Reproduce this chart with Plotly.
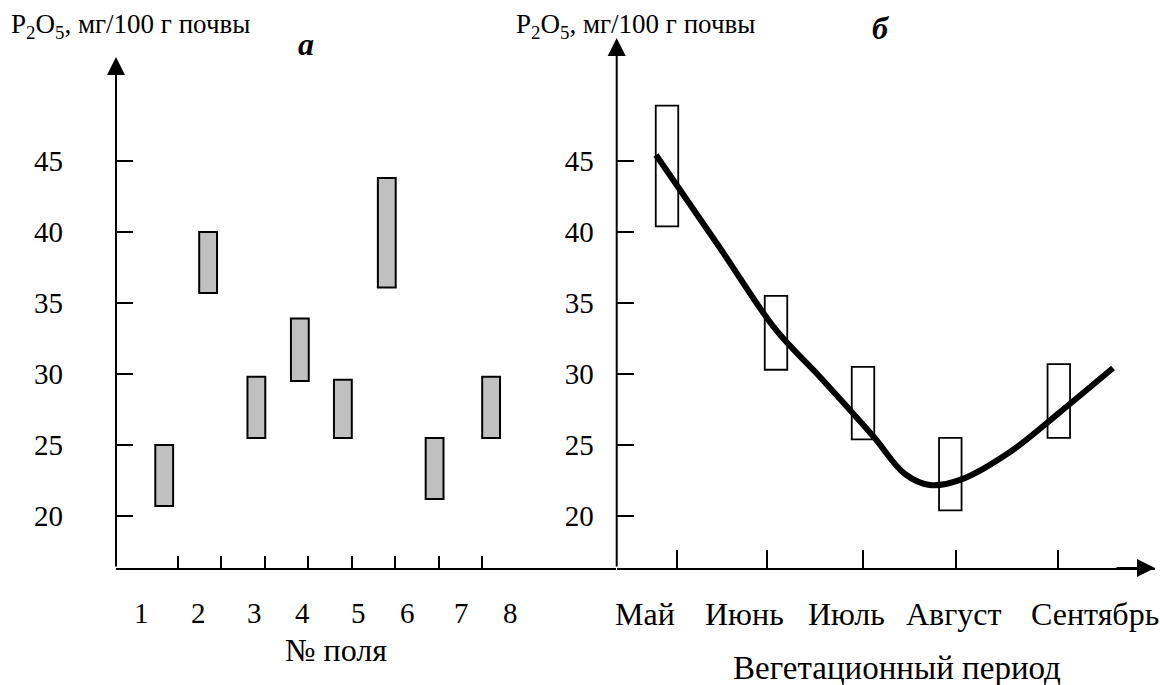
import plotly.graph_objects as go

# ---------------- data ----------------
# Panel a: P2O5 ranges per field
field_labels = ["1", "2", "3", "4", "5", "6", "7", "8"]
field_tick_pos = [1, 2, 3, 4, 5, 6, 7, 8]
field_bar_pos = [0.69, 1.70, 2.81, 3.81, 4.80, 5.81, 6.91, 8.21]
field_label_pos = [0.17, 1.47, 2.76, 3.88, 5.17, 6.28, 7.53, 8.66]
field_low = [20.7, 35.7, 25.5, 29.5, 25.5, 36.1, 21.2, 25.5]
field_high = [25.0, 40.0, 29.8, 33.9, 29.6, 43.8, 25.5, 29.8]

# Panel б: P2O5 ranges per month and trend line
months = ["Май", "Июнь", "Июль", "Август", "Сентябрь"]
month_tick_pos = [0.607, 1.503, 2.466, 3.393, 4.413]
month_box_pos = [0.503, 1.593, 2.463, 3.336, 4.421]
month_label_pos = [0.281, 1.281, 2.30, 3.373, 4.781]
month_low = [40.4, 30.3, 25.4, 20.4, 25.5]
month_high = [48.9, 35.5, 30.5, 25.5, 30.7]

trend_x = [0.393, 1.033, 1.593, 2.033, 2.563, 2.883, 3.133, 3.433, 3.933, 4.433, 4.963]
trend_y = [45.42, 38.87, 33.10, 29.79, 25.63, 22.96, 22.18, 22.54, 24.51, 27.32, 30.42]

y_ticks = [20, 25, 30, 35, 40, 45]

y_title = "P<sub>2</sub>O<sub>5</sub>, мг/100 г почвы"
x_title_a = "№ поля"
x_title_b = "Вегетационный период"

# ---------------- layout geometry ----------------
W, H = 1160, 685
FONT = "Liberation Serif"
yr = [16.34, 53.66]
y_top_a = 52.32
xr_a = [-0.419, 11.083]
xr_b = [0.0, 5.383]


def fx(p):
    return p / W


def fy(p):
    return (H - p) / H


fig = go.Figure()

fig.add_trace(go.Bar(
    x=field_bar_pos, base=field_low,
    y=[h - l for h, l in zip(field_high, field_low)],
    width=0.41, marker=dict(color="#c0c0c0", line=dict(color="black", width=2)),
    xaxis="x", yaxis="y", hoverinfo="skip"))

fig.add_trace(go.Bar(
    x=month_box_pos, base=month_low,
    y=[h - l for h, l in zip(month_high, month_low)],
    width=0.225, marker=dict(color="white", line=dict(color="black", width=1.8)),
    xaxis="x2", yaxis="y2", hoverinfo="skip"))

fig.add_trace(go.Scatter(
    x=trend_x, y=trend_y, mode="lines",
    line=dict(color="black", width=6, shape="spline", smoothing=1.0),
    xaxis="x2", yaxis="y2", hoverinfo="skip"))

tickfont = dict(family=FONT, size=29, color="black")

fig.update_layout(
    width=W, height=H,
    margin=dict(l=0, r=0, t=0, b=0),
    paper_bgcolor="white", plot_bgcolor="white",
    showlegend=False, barmode="overlay",
    xaxis=dict(domain=[fx(116), fx(616)], range=xr_a, showgrid=False, zeroline=False,
               showline=True, linecolor="black", linewidth=2,
               ticks="inside", ticklen=12, tickwidth=2, tickcolor="black",
               tickmode="array", tickvals=field_tick_pos, showticklabels=False),
    yaxis=dict(domain=[fy(568), fy(38)], range=yr, showgrid=False, zeroline=False,
               showline=False, ticks="inside", ticklen=17, tickwidth=2, tickcolor="black",
               tickmode="array", tickvals=y_ticks, tickfont=tickfont,
               ticklabelstandoff=52),
    xaxis2=dict(domain=[fx(616.7), fx(1155)], range=xr_b, showgrid=False, zeroline=False,
                showline=True, linecolor="black", linewidth=2,
                ticks="inside", ticklen=18, tickwidth=2, tickcolor="black",
                tickmode="array", tickvals=month_tick_pos, showticklabels=False,
                anchor="y2"),
    yaxis2=dict(domain=[fy(568), fy(38)], range=yr, showgrid=False, zeroline=False,
                showline=False, ticks="inside", ticklen=17, tickwidth=2, tickcolor="black",
                tickmode="array", tickvals=y_ticks, tickfont=tickfont,
                ticklabelstandoff=22, anchor="x2"),
)

ann = []
arrow = dict(showarrow=True, arrowhead=2, arrowsize=1.8, arrowwidth=2,
             arrowcolor="black", text="", standoff=0, startstandoff=0)
# y-axis arrows
ann.append(dict(x=xr_a[0], y=y_top_a, ax=xr_a[0], ay=yr[0], xref="x", yref="y",
                axref="x", ayref="y", **arrow))
ann.append(dict(x=xr_b[0], y=yr[1], ax=xr_b[0], ay=yr[0], xref="x2", yref="y2",
                axref="x2", ayref="y2", **arrow))
# x-axis arrow (drawn in paper coordinates so it is not clipped)
ann.append(dict(x=fx(1155), y=fy(568), xref="paper", yref="paper",
                ax=-40, ay=0, axref="pixel", ayref="pixel", **arrow))

lab = dict(family=FONT, size=29, color="black")
for p, t in zip(field_label_pos, field_labels):
    ann.append(dict(x=p, y=fy(613), xref="x", yref="paper", text=t, showarrow=False,
                    font=lab, xanchor="center", yanchor="middle"))
ann.append(dict(x=4.64, y=fy(650), xref="x", yref="paper", text=x_title_a,
                showarrow=False, font=dict(family=FONT, size=32, color="black"),
                xanchor="center", yanchor="middle"))

mlab = dict(family=FONT, size=32, color="black")
for p, t in zip(month_label_pos, months):
    ann.append(dict(x=p, y=fy(614), xref="x2", yref="paper", text=t, showarrow=False,
                    font=mlab, xanchor="center", yanchor="middle"))
ann.append(dict(x=2.80, y=fy(668), xref="x2", yref="paper", text=x_title_b,
                showarrow=False, font=dict(family=FONT, size=33, color="black"),
                xanchor="center", yanchor="middle"))

tfont = dict(family=FONT, size=27, color="black")
ann.append(dict(x=fx(9), y=fy(26), xref="paper", yref="paper", text=y_title,
                showarrow=False, font=tfont, xanchor="left", yanchor="middle"))
ann.append(dict(x=fx(514), y=fy(26), xref="paper", yref="paper", text=y_title,
                showarrow=False, font=tfont, xanchor="left", yanchor="middle"))

pfont = dict(family=FONT, size=32, color="black")
ann.append(dict(x=fx(306), y=fy(44), xref="paper", yref="paper", text="<b><i>a</i></b>",
                showarrow=False, font=pfont, xanchor="center", yanchor="middle"))
ann.append(dict(x=fx(881), y=fy(28), xref="paper", yref="paper", text="<b><i>б</i></b>",
                showarrow=False, font=pfont, xanchor="center", yanchor="middle"))

fig.update_layout(annotations=ann)

# remove the default 8px page margin so the figure fills the 1160x685 window exactly
fig.write_html("out.html",
               config={"displayModeBar": False},
               post_script="document.body.style.margin='0';document.body.style.overflow='hidden';")
